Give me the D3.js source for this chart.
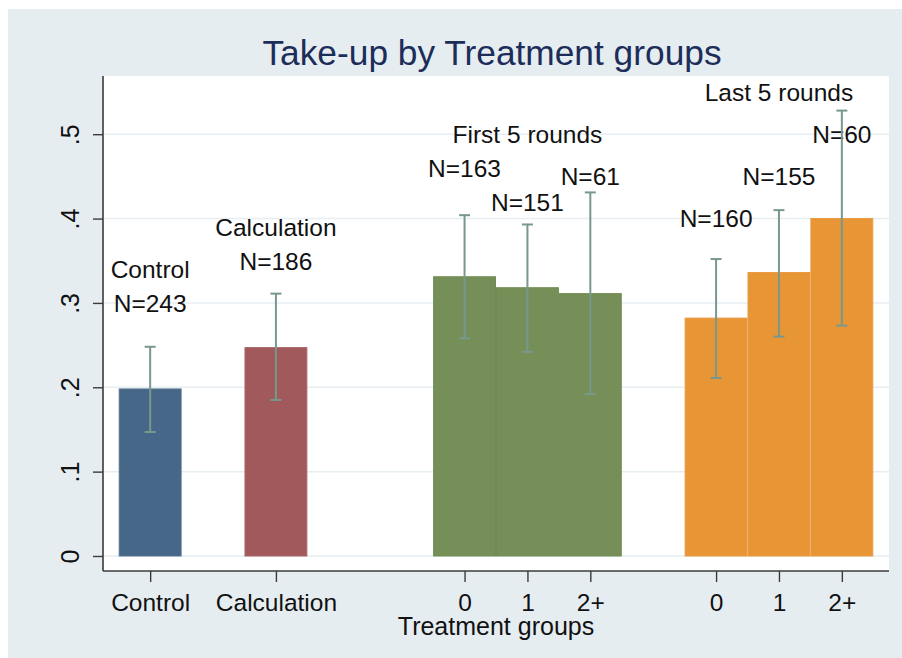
<!DOCTYPE html>
<html>
<head>
<meta charset="utf-8">
<script src="https://cdn.jsdelivr.net/npm/d3@7"></script>
<style>
  html, body { margin: 0; padding: 0; background: #ffffff; }
  svg { display: block; font-family: "Liberation Sans", Arial, sans-serif; }
</style>
</head>
<body>
<svg id="chart" width="902" height="658"></svg>
<script>
// ---- data ----
const categories = ["Control", "Calculation", "0", "1", "2+", "0", "1", "2+"];
const groups     = ["control", "calc", "first", "first", "first", "last", "last", "last"];
const positions  = [1, 3, 6, 7, 8, 10, 11, 12];           // x slot of each bar
const takeUp     = [0.198, 0.247, 0.331, 0.318, 0.311, 0.282, 0.336, 0.400];
const ciLow      = [0.147, 0.185, 0.258, 0.242, 0.192, 0.211, 0.260, 0.273];
const ciHigh     = [0.248, 0.311, 0.404, 0.393, 0.431, 0.352, 0.410, 0.528];
const yTicks     = [0, 0.1, 0.2, 0.3, 0.4, 0.5];
const yTickLabels = ["0", ".1", ".2", ".3", ".4", ".5"];
const annotations = [
  { text: "Control",        x: 1,  y: 0.34 },
  { text: "N=243",          x: 1,  y: 0.30 },
  { text: "Calculation",    x: 3,  y: 0.39 },
  { text: "N=186",          x: 3,  y: 0.35 },
  { text: "First 5 rounds", x: 7,  y: 0.50 },
  { text: "N=163",          x: 6,  y: 0.46 },
  { text: "N=151",          x: 7,  y: 0.42 },
  { text: "N=61",           x: 8,  y: 0.45 },
  { text: "Last 5 rounds",  x: 11, y: 0.55 },
  { text: "N=160",          x: 10, y: 0.40 },
  { text: "N=155",          x: 11, y: 0.45 },
  { text: "N=60",           x: 12, y: 0.50 }
];
const title = "Take-up by Treatment groups";
const xTitle = "Treatment groups";

const colors = { control: "#476789", calc: "#A1595B", first: "#768F58", last: "#E89535" };
const edge   = { control: "#54728F", calc: "#A86466", first: "#6F8A52", last: "#E99A40" };

// ---- layout ----
const svg = d3.select("#chart");
const plot = { left: 103, right: 889, top: 76, bottom: 571 };

svg.append("rect").attr("x", 8).attr("y", 9).attr("width", 894).attr("height", 649)
  .attr("fill", "#E6EDF1");
svg.append("rect").attr("x", plot.left).attr("y", plot.top)
  .attr("width", plot.right - plot.left).attr("height", plot.bottom - plot.top)
  .attr("fill", "#ffffff");

const x = d3.scaleLinear().domain([0.25, 12.75]).range([plot.left, plot.right]);
const y = d3.scaleLinear().domain([-0.0178, 0.569]).range([plot.bottom, plot.top]);
const barW = x(1) - x(0);

// gridlines
svg.append("g").selectAll("line").data(yTicks).join("line")
  .attr("x1", plot.left + 1).attr("x2", plot.right)
  .attr("y1", d => y(d)).attr("y2", d => y(d))
  .attr("stroke", "#E6EEF2").attr("stroke-width", 1.5);

// bars
const data = categories.map((c, i) => ({
  cat: c, g: groups[i], pos: positions[i], v: takeUp[i], lo: ciLow[i], hi: ciHigh[i]
}));
svg.append("g").selectAll("rect").data(data).join("rect")
  .attr("x", d => x(d.pos) - barW / 2 + 0.5)
  .attr("y", d => y(d.v))
  .attr("width", barW - 1)
  .attr("height", d => y(0) - y(d.v))
  .attr("fill", d => colors[d.g])
  .attr("stroke", d => edge[d.g])
  .attr("stroke-width", 1);

// annotations
svg.append("g").selectAll("text").data(annotations).join("text")
  .attr("x", d => x(d.x)).attr("y", d => y(d.y)).attr("dy", "0.36em")
  .attr("text-anchor", "middle")
  .attr("font-size", 24.5).attr("fill", "#111111")
  .text(d => d.text);

// error bars
const eb = svg.append("g").attr("stroke", "#78988E").attr("stroke-width", 2).attr("fill", "none");
data.forEach(d => {
  const cx = x(d.pos);
  eb.append("line").attr("x1", cx).attr("x2", cx).attr("y1", y(d.lo)).attr("y2", y(d.hi));
  eb.append("line").attr("x1", cx - 5.5).attr("x2", cx + 5.5).attr("y1", y(d.lo)).attr("y2", y(d.lo));
  eb.append("line").attr("x1", cx - 5.5).attr("x2", cx + 5.5).attr("y1", y(d.hi)).attr("y2", y(d.hi));
});

// y axis
const yAxis = d3.axisLeft(y).tickValues(yTicks).tickFormat((d, i) => yTickLabels[i])
  .tickSize(10).tickPadding(0);
const ya = svg.append("g").attr("transform", `translate(${plot.left},0)`).call(yAxis);
ya.select(".domain").attr("stroke", "#3a3a3a").attr("stroke-width", 1.6)
  .attr("d", `M0,${plot.top}V${plot.bottom}`);
ya.selectAll(".tick line").attr("stroke", "#3a3a3a").attr("stroke-width", 1.4);
ya.selectAll(".tick text")
  .attr("font-size", 25).attr("fill", "#111111").attr("font-family", "Liberation Sans, Arial, sans-serif")
  .attr("text-anchor", "middle").attr("x", null).attr("dy", null)
  .attr("transform", "translate(-24,0) rotate(-90)")
  .attr("y", 0);

// x axis
const xAxis = d3.axisBottom(x).tickValues(positions).tickFormat((d, i) => categories[i])
  .tickSize(11).tickPadding(0);
const xa = svg.append("g").attr("transform", `translate(0,${plot.bottom})`).call(xAxis);
xa.select(".domain").attr("stroke", "#3a3a3a").attr("stroke-width", 1.6)
  .attr("d", `M${plot.left},0H${plot.right}`);
xa.selectAll(".tick line").attr("stroke", "#3a3a3a").attr("stroke-width", 1.4);
xa.selectAll(".tick text")
  .attr("font-size", 24.5).attr("fill", "#111111").attr("font-family", "Liberation Sans, Arial, sans-serif")
  .attr("dy", null).attr("y", 39.5);

// axis title
svg.append("text").attr("x", (plot.left + plot.right) / 2).attr("y", 635)
  .attr("text-anchor", "middle").attr("font-size", 25).attr("fill", "#111111")
  .text(xTitle);

// chart title
svg.append("text").attr("x", (plot.left + plot.right) / 2 - 4).attr("y", 65)
  .attr("text-anchor", "middle").attr("font-size", 35.3).attr("fill", "#1C2D5A")
  .text(title);
</script>
</body>
</html>
